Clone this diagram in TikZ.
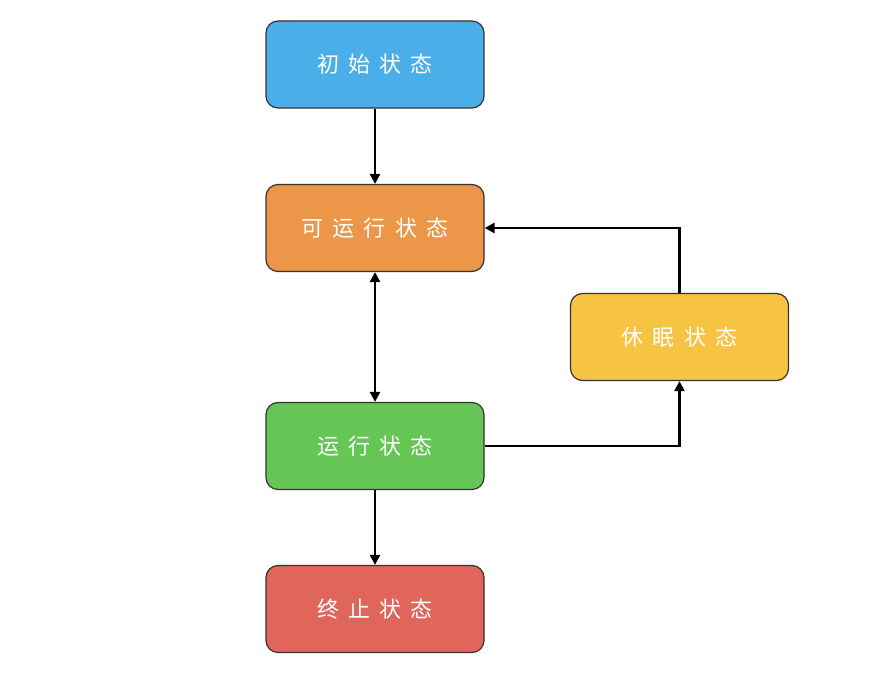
\documentclass[tikz,border=0pt]{standalone}
\usepackage{fontspec}
\newfontfamily\cjk[LetterSpace=42]{Noto Sans CJK SC}
\usetikzlibrary{arrows.meta}
\definecolor{cblue}{HTML}{4AAFE9}
\definecolor{corange}{HTML}{EB9648}
\definecolor{cyellow}{HTML}{F6C342}
\definecolor{cgreen}{HTML}{65C655}
\definecolor{cred}{HTML}{E0665C}
\definecolor{cborder}{HTML}{333333}
\newcommand{\trimls}{\hspace{-9.24pt}}
\tikzset{
  state/.style={draw=cborder, line width=1.2pt, rounded corners=12pt,
    minimum width=218pt, minimum height=87pt, inner sep=0pt,
    text=white, font=\cjk\fontsize{22}{26}\selectfont},
  conn/.style={line width=2.6pt, -{Triangle[length=10pt,width=10pt]}},
}
\begin{document}
\begin{tikzpicture}[x=1pt,y=-1pt]
\useasboundingbox (0,0) rectangle (886,698);
\node[state, fill=cblue] (init) at (375,64.5) {初始状态\trimls};
\node[state, fill=corange] (ready) at (375,228) {可运行状态\trimls};
\node[state, fill=cyellow] (sleep) at (679.5,337) {休眠状态\trimls};
\node[state, fill=cgreen] (run) at (375,446) {运行状态\trimls};
\node[state, fill=cred] (term) at (375,609) {终止状态\trimls};
\draw[conn] (init) -- (ready);
\draw[conn, {Triangle[length=10pt,width=10pt]}-{Triangle[length=10pt,width=10pt]}] (ready) -- (run);
\draw[conn] (run) -- (term);
\draw[conn] (run.east) -| (sleep.south);
\draw[conn] (sleep.north) |- (ready.east);
\end{tikzpicture}
\end{document}
